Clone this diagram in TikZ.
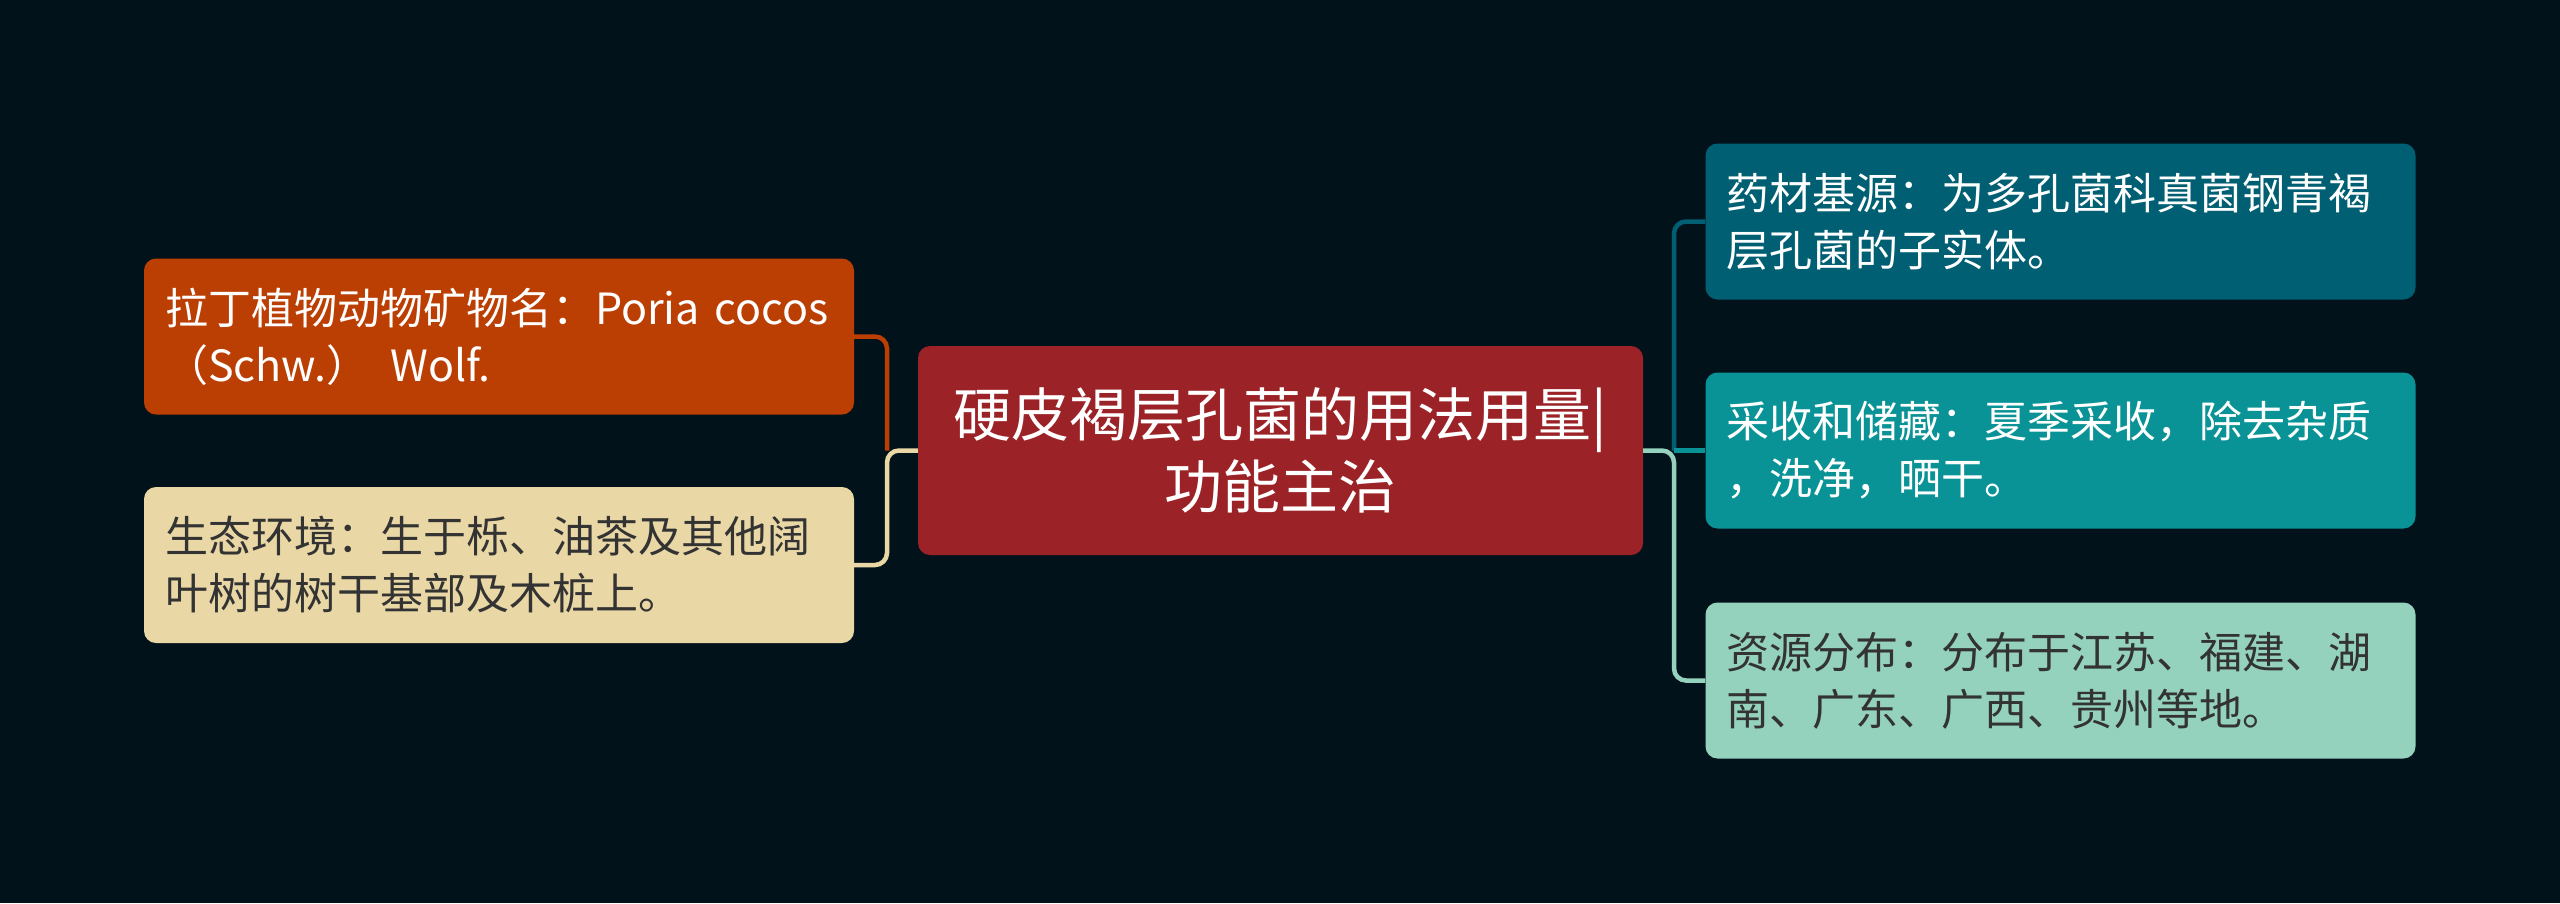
\documentclass[tikz,border=0pt]{standalone}
\usepackage{fontspec}
\setmainfont{Noto Sans CJK SC}
\definecolor{bg}{HTML}{02121B}
\definecolor{cOrange}{HTML}{BB3E03}
\definecolor{cBeige}{HTML}{E9D8A6}
\definecolor{cRed}{HTML}{9B2226}
\definecolor{cDTeal}{HTML}{005F73}
\definecolor{cTeal}{HTML}{0A9396}
\definecolor{cMint}{HTML}{94D2BD}
\definecolor{cDark}{HTML}{333333}
\begin{document}
\begin{tikzpicture}[x=1pt,y=-1pt,
  box/.style={rectangle, rounded corners=12pt, inner xsep=21pt, inner ysep=0pt,
    minimum width=710pt, minimum height=156pt, text width=668pt, align=left,
    font=\fontsize{43}{57}\selectfont},
  centre/.style={rectangle, rounded corners=12pt, fill=cRed, text=white,
    minimum width=725pt, minimum height=209pt, align=center,
    font=\fontsize{58}{72}\selectfont},
  link/.style={line width=4.5pt, rounded corners=12pt}]
\useasboundingbox[fill=bg] (0,0) rectangle (2560,903);
\node[centre] (c) at (1280.5,450.5) {硬皮褐层孔菌的用法用量|\\功能主治};
\node[box, fill=cOrange, text=white] (l1) at (499,336.5) {拉丁植物动物矿物名：Poria cocos\\（Schw.） Wolf.};
\node[box, fill=cBeige, text=cDark] (l2) at (499,565) {生态环境：生于栎、油茶及其他阔\\叶树的树干基部及木桩上。};
\node[box, fill=cDTeal, text=white] (r1) at (2060.5,221.5) {药材基源：为多孔菌科真菌钢青褐\\层孔菌的子实体。};
\node[box, fill=cTeal, text=white] (r2) at (2060.5,450.5) {采收和储藏：夏季采收，除去杂质\\，洗净，晒干。};
\node[box, fill=cMint, text=cDark] (r3) at (2060.5,680.5) {资源分布：分布于江苏、福建、湖\\南、广东、广西、贵州等地。};
\coordinate (jl) at (887,450.5);
\coordinate (jr) at (1674,450.5);
\draw[link, cOrange] (jl) |- (l1.east);
\draw[link, cBeige] (c.west) -- (jl) |- (l2.east);
\draw[link, cDTeal] (jr) |- (r1.west);
\draw[link, cTeal] (jr) -- (r2.west);
\draw[link, cMint] (c.east) -- (jr) |- (r3.west);
\end{tikzpicture}
\end{document}
